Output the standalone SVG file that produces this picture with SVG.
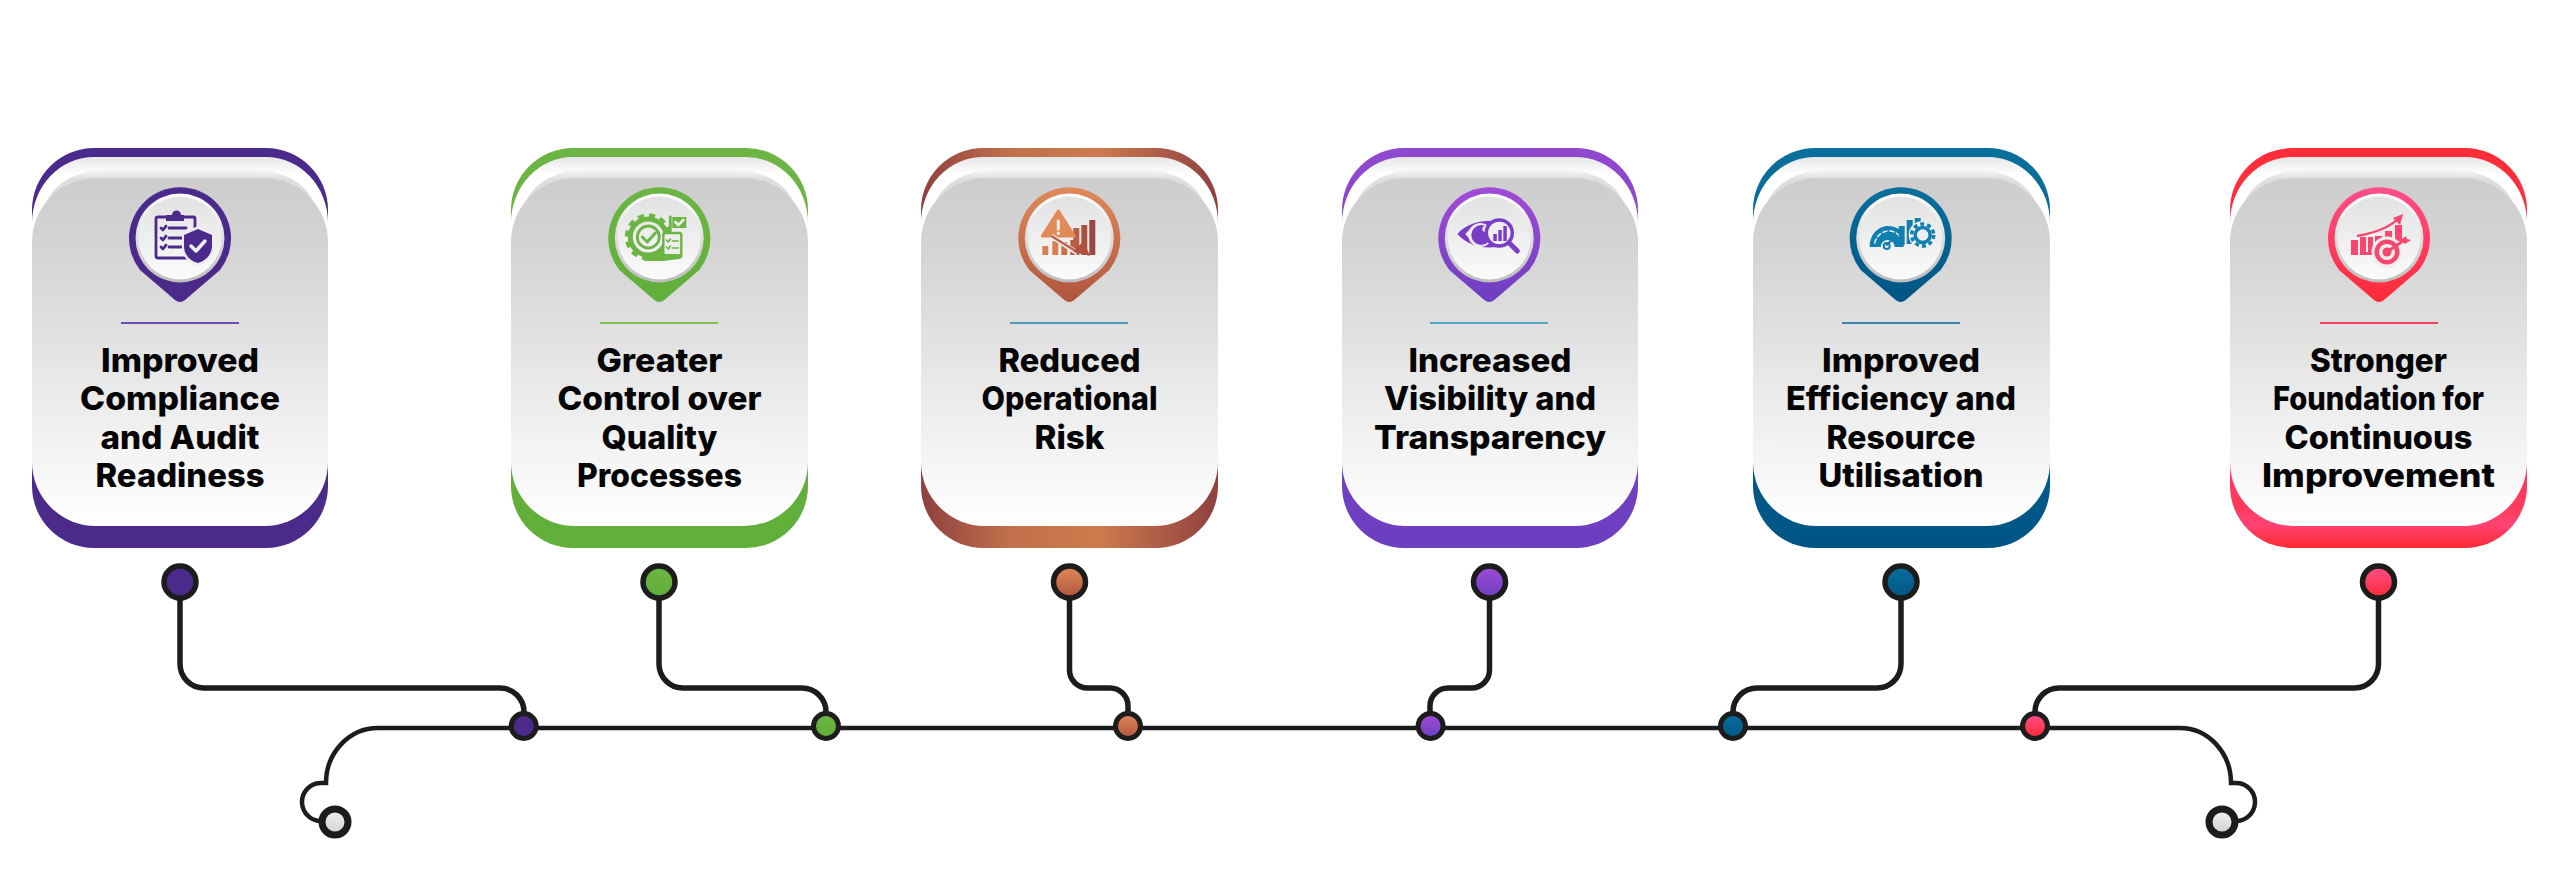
<svg xmlns="http://www.w3.org/2000/svg" width="2560" height="885" viewBox="0 0 2560 885">
<style>
text{font-family:"Inter","Liberation Sans",sans-serif;font-weight:800;font-size:33px;fill:#050505;text-anchor:middle}
.wire{fill:none;stroke:#1c1c1c;stroke-width:5.500;stroke-linecap:round}
.main{fill:none;stroke:#1c1c1c;stroke-width:4.500}
.dot{stroke:#1c1c1c;stroke-width:5.500}
.jn{stroke:#1c1c1c;stroke-width:5}
.term{fill:url(#tg);stroke:#1c1c1c;stroke-width:7}
.rim{fill:url(#rimg)}
.face{fill:url(#faceg)}
.layer{fill:url(#layerg)}
.band{fill:url(#bandg)}
.inner{fill:url(#innerg)}
.ic{fill:currentColor;stroke:none}
.il{fill:none;stroke:currentColor;stroke-width:2.800;stroke-linecap:round;stroke-linejoin:round}
.iw{fill:none;stroke:#f0f0f0;stroke-width:2.600;stroke-linecap:round;stroke-linejoin:round}
.bg{fill:#eeeeee;stroke:none}
</style>
<defs>
<linearGradient id="layerg" x1="0" y1="0" x2="0" y2="1"><stop offset="0" stop-color="#e6e6e6"/><stop offset="0.05" stop-color="#ffffff"/><stop offset="1" stop-color="#ffffff"/></linearGradient>
<linearGradient id="bandg" x1="0" y1="0" x2="0" y2="1"><stop offset="0" stop-color="#f6f6f6"/><stop offset="0.1" stop-color="#dedede"/><stop offset="1" stop-color="#dedede"/></linearGradient>
<linearGradient id="innerg" x1="0" y1="0" x2="0" y2="1"><stop offset="0" stop-color="#cdcdcd"/><stop offset="0.25" stop-color="#d6d6d6"/><stop offset="0.7" stop-color="#efefef"/><stop offset="1" stop-color="#ffffff"/></linearGradient>
<linearGradient id="rimg" x1="0" y1="0" x2="0" y2="1"><stop offset="0" stop-color="#ffffff"/><stop offset="1" stop-color="#bdbdbd"/></linearGradient>
<linearGradient id="faceg" x1="0" y1="0" x2="0" y2="1"><stop offset="0" stop-color="#e2e2e2"/><stop offset="1" stop-color="#fbfbfb"/></linearGradient>
<linearGradient id="tg" x1="0" y1="0" x2="0" y2="1"><stop offset="0" stop-color="#f4f4f4"/><stop offset="1" stop-color="#cfcfcf"/></linearGradient>
<linearGradient id="c1" x1="0" y1="0" x2="0" y2="1"><stop offset="0" stop-color="#4a2a8c"/><stop offset="1" stop-color="#4c2a8a"/></linearGradient>
<linearGradient id="c2" x1="0" y1="0" x2="0" y2="1"><stop offset="0" stop-color="#6cb544"/><stop offset="1" stop-color="#61ae3a"/></linearGradient>
<linearGradient id="c3" x1="0" y1="0" x2="1" y2="0"><stop offset="0" stop-color="#8f4040"/><stop offset="0.3" stop-color="#c0704a"/><stop offset="0.6" stop-color="#cd7a4e"/><stop offset="1" stop-color="#8f4040"/></linearGradient>
<linearGradient id="c4" x1="0" y1="0" x2="0" y2="1"><stop offset="0" stop-color="#9048cf"/><stop offset="1" stop-color="#6c3fc0"/></linearGradient>
<linearGradient id="c5" x1="0" y1="0" x2="0" y2="1"><stop offset="0" stop-color="#0a6f9c"/><stop offset="1" stop-color="#005585"/></linearGradient>
<linearGradient id="c6" x1="0" y1="0" x2="0" y2="1"><stop offset="0" stop-color="#ff2d38"/><stop offset="0.9" stop-color="#ff3a5e"/><stop offset="0.94" stop-color="#ff4474"/><stop offset="1" stop-color="#ff2a35"/></linearGradient>
<linearGradient id="p3" x1="0" y1="0" x2="0" y2="1"><stop offset="0" stop-color="#e0895a"/><stop offset="1" stop-color="#b0553f"/></linearGradient>
<linearGradient id="p4" x1="0" y1="0" x2="0" y2="1"><stop offset="0" stop-color="#a24bd8"/><stop offset="1" stop-color="#6c3fc0"/></linearGradient>
<linearGradient id="p6" x1="0" y1="0" x2="0" y2="1"><stop offset="0" stop-color="#ff4f8c"/><stop offset="1" stop-color="#ff2a35"/></linearGradient>
<path id="pin" d="M-40 32A51 51 0 1 1 40 32L5 62Q0 66 -5 62Z"/>
</defs>
<rect width="2560" height="885" fill="#ffffff"/>
<g id="connectors">
<path class="main" d="M378 728H2180A51 55 0 0 1 2231 783H2237A19 19 0 0 1 2235 821"/>
<path class="main" d="M378 728A52 55 0 0 0 326 783H320A19 19 0 0 0 322 821"/>
<path class="wire" d="M180 582V664A24 24 0 0 0 204 688H500A24 24 0 0 1 524 712"/>
<path class="wire" d="M659 582V664A24 24 0 0 0 683 688H802A24 24 0 0 1 826 712"/>
<path class="wire" d="M1069.500 582V670A18 18 0 0 0 1087.500 688H1110A18 18 0 0 1 1128 706V712"/>
<path class="wire" d="M1489.500 582V670A18 18 0 0 1 1471.500 688H1448A18 18 0 0 0 1430 706V712"/>
<path class="wire" d="M1901 582V664A24 24 0 0 1 1877 688H1757A24 24 0 0 0 1733 712"/>
<path class="wire" d="M2378.500 582V664A24 24 0 0 1 2354.500 688H2059A24 24 0 0 0 2035 712"/>
</g>
<g id="node-1" style="color:#4a2a8c">
<rect x="32" y="148" width="296" height="400" rx="62" ry="62" fill="url(#c1)"/>
<rect class="layer" x="32" y="157" width="296" height="340" rx="62" ry="66"/>
<rect class="band" x="44" y="170" width="272" height="90" rx="60" ry="50"/>
<rect class="inner" x="32" y="178" width="296" height="348" rx="64"/>
<g transform="translate(180 238)">
<use href="#pin" fill="url(#c1)"/><circle class="rim" r="44.500"/><circle class="face" r="41.500"/>
<rect class="il" x="-24" y="-21" width="39" height="41" rx="2"/>
<path class="ic" d="M-14 -23H-8A4.500 4.500 0 0 1 1 -23H4V-17H-14Z"/>
<path class="il" d="M-19 -10L-17 -8L-14 -12M-11 -10H6M-19 0L-17 2L-14 -2M-11 0H2M-19 9L-17 11L-14 7M-11 9H1"/>
<path class="bg" d="M2 -5L18 -12L34 -5V8C34 18 26 26 18 28C8 26 2 18 2 8Z"/>
<path class="ic" d="M4 -3L18 -9L32 -3V8C32 17 25 23 18 25C10 23 4 17 4 8Z"/>
<path class="iw" style="stroke-width:3.500" d="M11 8L16 13L25 3"/>
</g>
<rect x="121" y="322" width="118" height="2" fill="#6a4fb0"/>
<text x="180" y="372" textLength="158" lengthAdjust="spacingAndGlyphs">Improved</text><text x="180" y="410" textLength="200" lengthAdjust="spacingAndGlyphs">Compliance</text><text x="180" y="449" textLength="159" lengthAdjust="spacingAndGlyphs">and Audit</text><text x="180" y="487" textLength="169" lengthAdjust="spacingAndGlyphs">Readiness</text>
<circle class="dot" cx="180" cy="582" r="16" fill="url(#c1)"/>
<circle class="jn" cx="523.700" cy="726" r="12.500" fill="url(#c1)"/>
</g>
<g id="node-2" style="color:#6cb544">
<rect x="511" y="148" width="297" height="400" rx="62" ry="62" fill="url(#c2)"/>
<rect class="layer" x="511" y="157" width="297" height="340" rx="62" ry="66"/>
<rect class="band" x="523" y="170" width="273" height="90" rx="60" ry="50"/>
<rect class="inner" x="511" y="178" width="297" height="348" rx="64"/>
<g transform="translate(659.300 238)">
<use href="#pin" fill="url(#c2)"/><circle class="rim" r="44.500"/><circle class="face" r="41.500"/>
<circle cx="-11" cy="-1" r="18" fill="none" stroke="currentColor" stroke-width="5"/>
<circle cx="-11" cy="-1" r="21" fill="none" stroke="currentColor" stroke-width="5" stroke-dasharray="6 5"/>
<circle class="il" cx="-11" cy="-1" r="11"/>
<path class="il" style="stroke-width:3" d="M-17 -1L-12 4L-4 -5"/>
<path class="il" d="M11 -21V-3"/><rect class="ic" x="13" y="-21" width="14" height="11"/>
<path class="iw" d="M16 -16L19 -13L24 -18"/>
<rect x="4" y="-5" width="18" height="23" rx="2" fill="#eeeeee" stroke="currentColor" stroke-width="2.400"/>
<path class="il" style="stroke-width:1.600" d="M7 2L9 4L11 1M13 3H19M7 9L9 11L11 8M13 10H19"/>
<path class="ic" d="M-15 15H-9C-4 12 2 13 6 16H20C24 16 24 20 20 21L4 23H-15Z"/>
</g>
<rect x="600" y="322" width="118" height="2" fill="#7cc050"/>
<text x="659.500" y="372" textLength="126" lengthAdjust="spacingAndGlyphs">Greater</text><text x="659.500" y="410" textLength="204" lengthAdjust="spacingAndGlyphs">Control over</text><text x="659.500" y="449" textLength="116" lengthAdjust="spacingAndGlyphs">Quality</text><text x="659.500" y="487" textLength="165" lengthAdjust="spacingAndGlyphs">Processes</text>
<circle class="dot" cx="659" cy="582" r="16" fill="url(#c2)"/>
<circle class="jn" cx="826" cy="726" r="12.500" fill="url(#c2)"/>
</g>
<g id="node-3" style="color:#c9683f">
<rect x="921" y="148" width="297" height="400" rx="62" ry="62" fill="url(#c3)"/>
<rect class="layer" x="921" y="157" width="297" height="340" rx="62" ry="66"/>
<rect class="band" x="933" y="170" width="273" height="90" rx="60" ry="50"/>
<rect class="inner" x="921" y="178" width="297" height="348" rx="64"/>
<g transform="translate(1069.300 238)">
<use href="#pin" fill="url(#p3)"/><circle class="rim" r="44.500"/><circle class="face" r="41.500"/>
<rect x="-27" y="8" width="6" height="9" fill="#d97f50"/><rect x="-17" y="3" width="6" height="14" fill="#d97f50"/><rect x="-8" y="4" width="6" height="13" fill="#c96f48"/><rect x="1" y="2" width="6" height="15" fill="#b85e44"/>
<rect x="4" y="-10" width="6" height="27" fill="#b85e44"/><rect x="12" y="-13" width="6" height="30" fill="#a84f42"/><rect x="20" y="-18" width="6" height="35" fill="#a04640"/>
<path d="M-11 -27L5 -2H-27Z" fill="#e08a58" stroke="#e08a58" stroke-width="3" stroke-linejoin="round"/>
<path class="iw" style="stroke-width:3" d="M-11 -17V-9M-11 -5V-4.500"/>
<path d="M-18 -2L8 15" fill="none" stroke="#eeeeee" stroke-width="5"/>
<path d="M-18 -2L8 14" fill="none" stroke="#c0624a" stroke-width="2.500"/>
<path d="M21 18L4 14L14 3Z" fill="#b0503f"/>
</g>
<rect x="1010" y="322" width="118" height="2" fill="#4a9ab8"/>
<text x="1069.500" y="372" textLength="142" lengthAdjust="spacingAndGlyphs">Reduced</text><text x="1069.500" y="410" textLength="176" lengthAdjust="spacingAndGlyphs">Operational</text><text x="1069.500" y="449" textLength="70" lengthAdjust="spacingAndGlyphs">Risk</text>
<circle class="dot" cx="1069.500" cy="582" r="16" fill="url(#p3)"/>
<circle class="jn" cx="1128" cy="726" r="12.500" fill="url(#p3)"/>
</g>
<g id="node-4" style="color:#7a3ec6">
<rect x="1342" y="148" width="296" height="400" rx="62" ry="62" fill="url(#c4)"/>
<rect class="layer" x="1342" y="157" width="296" height="340" rx="62" ry="66"/>
<rect class="band" x="1354" y="170" width="272" height="90" rx="60" ry="50"/>
<rect class="inner" x="1342" y="178" width="296" height="348" rx="64"/>
<g transform="translate(1489.300 238)">
<use href="#pin" fill="url(#p4)"/><circle class="rim" r="44.500"/><circle class="face" r="41.500"/>
<path class="ic" d="M-32 -4C-22 -15 -8 -18 8 -17L8 9C-8 11 -22 7 -32 -4Z"/>
<path d="M-24 -4C-20 -9 -16 -11 -12 -13C-15 -8 -15 2 -12 6C-16 4 -20 1 -24 -4Z" fill="#eeeeee"/>
<circle cx="-9" cy="-3" r="12" fill="#eeeeee"/><circle class="ic" cx="-8" cy="-3" r="10"/><circle cx="-4" cy="-9" r="3" fill="#eeeeee"/>
<circle cx="10" cy="-5" r="13" fill="#eeeeee" stroke="currentColor" stroke-width="3.500"/>
<rect class="ic" x="4" y="-4" width="3.500" height="7"/><rect class="ic" x="9" y="-8" width="3.500" height="11"/><rect class="ic" x="14" y="-12" width="3.500" height="15"/>
<path d="M20 5L28 13" fill="none" stroke="currentColor" stroke-width="5" stroke-linecap="round"/>
</g>
<rect x="1430" y="322" width="118" height="2" fill="#4fa8c0"/>
<text x="1490" y="372" textLength="163" lengthAdjust="spacingAndGlyphs">Increased</text><text x="1490" y="410" textLength="212" lengthAdjust="spacingAndGlyphs">Visibility and</text><text x="1490" y="449" textLength="232" lengthAdjust="spacingAndGlyphs">Transparency</text>
<circle class="dot" cx="1489.500" cy="582" r="16" fill="url(#p4)"/>
<circle class="jn" cx="1430.600" cy="726" r="12.500" fill="url(#p4)"/>
</g>
<g id="node-5" style="color:#1180b0">
<rect x="1753" y="148" width="297" height="400" rx="62" ry="62" fill="url(#c5)"/>
<rect class="layer" x="1753" y="157" width="297" height="340" rx="62" ry="66"/>
<rect class="band" x="1765" y="170" width="273" height="90" rx="60" ry="50"/>
<rect class="inner" x="1753" y="178" width="297" height="348" rx="64"/>
<g transform="translate(1900.700 238)">
<use href="#pin" fill="url(#c5)"/><circle class="rim" r="44.500"/><circle class="face" r="41.500"/>
<path class="ic" d="M-31 9C-31 -6 -20 -12 -13 -12C-6 -12 0 -9 3 -4V9H-6A7 7 0 0 0 -20 9Z"/>
<path class="iw" style="stroke-width:1.500" stroke-dasharray="4 3" d="M-26 5C-24 -3 -18 -7 -12 -7C-7 -7 -3 -5 -1 -1"/>
<path class="il" style="stroke-width:2" d="M-14 7L-6 -1"/><circle cx="-14" cy="8" r="3" fill="none" stroke="currentColor" stroke-width="2"/>
<rect class="ic" x="-2" y="-12" width="6" height="19"/><rect class="ic" x="6" y="-18" width="6" height="24"/><rect class="ic" x="14" y="-20" width="6" height="28"/>
<circle cx="22" cy="-3" r="14" class="bg" style="fill:#f0f0f0"/>
<circle cx="22" cy="-3" r="7.500" fill="none" stroke="currentColor" stroke-width="3.500"/>
<circle cx="22" cy="-3" r="11" fill="none" stroke="currentColor" stroke-width="3.500" stroke-dasharray="4 3"/>
</g>
<rect x="1842" y="322" width="118" height="2" fill="#3a85b0"/>
<text x="1901" y="372" textLength="158" lengthAdjust="spacingAndGlyphs">Improved</text><text x="1901" y="410" textLength="230" lengthAdjust="spacingAndGlyphs">Efficiency and</text><text x="1901" y="449" textLength="149" lengthAdjust="spacingAndGlyphs">Resource</text><text x="1901" y="487" textLength="165" lengthAdjust="spacingAndGlyphs">Utilisation</text>
<circle class="dot" cx="1901" cy="582" r="16" fill="url(#c5)"/>
<circle class="jn" cx="1733" cy="726" r="12.500" fill="url(#c5)"/>
</g>
<g id="node-6" style="color:#f8476f">
<rect x="2230" y="148" width="297" height="400" rx="62" ry="62" fill="url(#c6)"/>
<rect class="layer" x="2230" y="157" width="297" height="340" rx="62" ry="66"/>
<rect class="band" x="2242" y="170" width="273" height="90" rx="60" ry="50"/>
<rect class="inner" x="2230" y="178" width="297" height="348" rx="64"/>
<g transform="translate(2379 238)">
<use href="#pin" fill="url(#p6)"/><circle class="rim" r="44.500"/><circle class="face" r="41.500"/>
<path class="ic" d="M-28 2H-21V17H-28ZM-19 -1H-13V14H-19ZM-11 -1H-6V17H-19V14H-11Z"/>
<path class="ic" d="M-4 -2H3V6H-4ZM6 -7H13V4H6ZM16 -13H23V3H16Z"/>
<path d="M-22 -2C-4 -5 10 -10 20 -20" fill="none" stroke="currentColor" stroke-width="2.400"/>
<path class="ic" d="M24 -24L21 -13L14 -20Z"/>
<circle r="15.500" cx="8" cy="14" fill="#eeeeee"/>
<circle r="12.500" cx="8" cy="14" class="ic"/><circle r="8" cx="8" cy="14" fill="#eeeeee"/><circle r="4.500" cx="8" cy="14" class="ic"/>
<path class="il" d="M8 14L24 3"/><path class="ic" d="M22 2L27 -2L28 1L32 2L26 6Z"/>
</g>
<rect x="2320" y="322" width="118" height="2" fill="#f04060"/>
<text x="2378.500" y="372" textLength="137" lengthAdjust="spacingAndGlyphs">Stronger</text><text x="2378.500" y="410" textLength="211" lengthAdjust="spacingAndGlyphs">Foundation for</text><text x="2378.500" y="449" textLength="188" lengthAdjust="spacingAndGlyphs">Continuous</text><text x="2378.500" y="487" textLength="233" lengthAdjust="spacingAndGlyphs">Improvement</text>
<circle class="dot" cx="2378.500" cy="582" r="16" fill="url(#p6)"/>
<circle class="jn" cx="2035" cy="726" r="12.500" fill="url(#p6)"/>
</g>
<g id="terminal-left"><circle class="term" cx="335" cy="822" r="13"/></g>
<g id="terminal-right"><circle class="term" cx="2222" cy="822" r="13"/></g>
</svg>
